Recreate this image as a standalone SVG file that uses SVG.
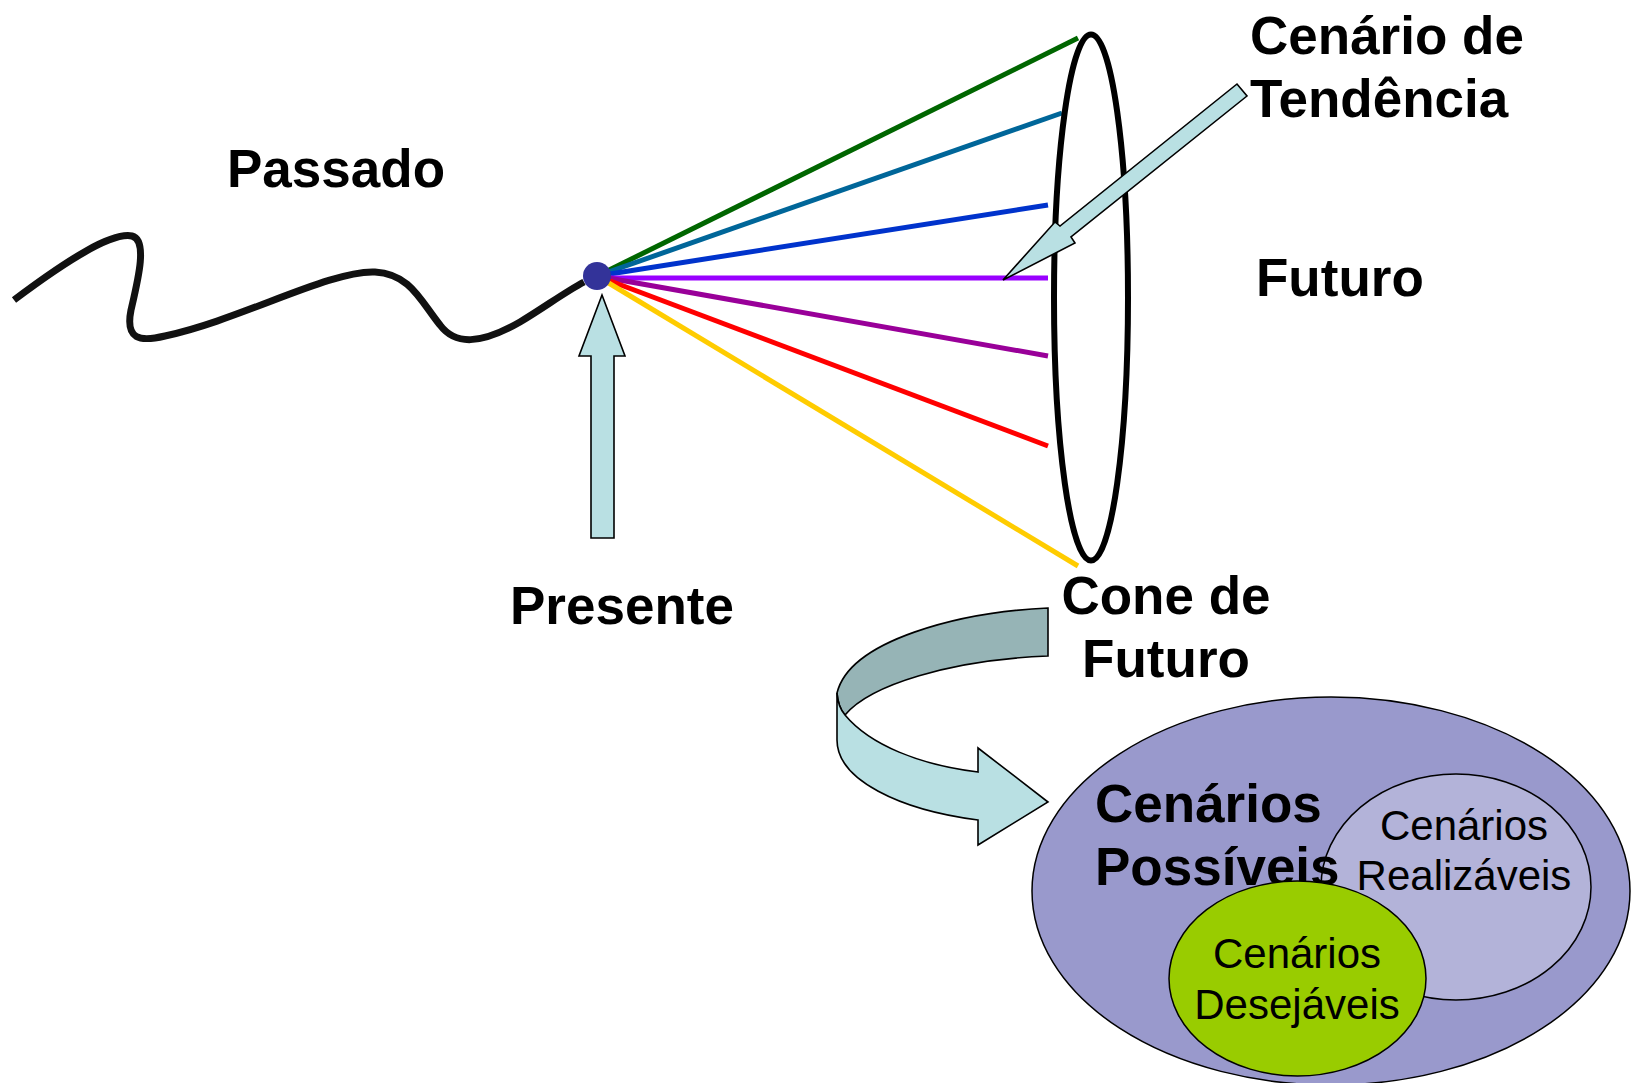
<svg xmlns="http://www.w3.org/2000/svg" width="1631" height="1083" viewBox="0 0 1631 1083">
<style>
.b{font-family:"Liberation Sans",Arial,sans-serif;font-weight:bold;font-size:53px;fill:#000}
.r{font-family:"Liberation Sans",Arial,sans-serif;font-size:42px;fill:#000}
.fan{stroke-width:5;fill:none}
.arr{fill:#B9E0E3;stroke:#000;stroke-width:1.6;stroke-linejoin:miter}
</style>
<rect width="1631" height="1083" fill="#fff"/>
<g id="passado-curve">
<path d="M14,300 C70,258 112,232 132,236 C148,240 138,280 131,310 C125,340 140,342 165,336 C240,320 330,270 375,272 C410,274 420,300 440,325 C455,345 480,345 520,322 C545,307 565,292 584,282" fill="none" stroke="#111" stroke-width="7"/>
</g>
<g id="connectors">
<line class="fan" x1="597" y1="276" x2="1078" y2="38" stroke="#006600"/>
<line class="fan" x1="597" y1="276" x2="1062" y2="113" stroke="#006699"/>
<line class="fan" x1="597" y1="276" x2="1048" y2="205" stroke="#0033CC"/>
<line class="fan" x1="597" y1="278" x2="1048" y2="278" stroke="#9900FF"/>
<line class="fan" x1="597" y1="276" x2="1048" y2="356" stroke="#990099"/>
<line class="fan" x1="597" y1="276" x2="1048" y2="446" stroke="#FF0000"/>
<line class="fan" x1="597" y1="276" x2="1078" y2="566" stroke="#FFCC00"/>
</g>
<g id="cone">
<ellipse cx="1091" cy="297.5" rx="37" ry="263" fill="none" stroke="#000" stroke-width="6"/>
</g>
<g id="presente-dot">
<circle cx="597" cy="276" r="14" fill="#333399"/>
</g>
<g id="presente-arrow">
<polygon class="arr" points="602,295 625,356 614,356 614,538 591,538 591,356 579,356"/>
</g>
<g id="tendencia-arrow">
<polygon class="arr" points="1003,280 1055,222 1060,226 1237,84 1247,96 1071,237 1075,243"/>
</g>
<g id="curved-arrow">
<path d="M1048,608 C960,612 850,640 837,693 Q838,707 845,715 C870,685 950,660 1048,656 Z" fill="#96B4B6" stroke="#000" stroke-width="1.6"/>
<path d="M837,693 L837,740 C837,780 900,810 978,820 L978,845 L1048,802 L978,748 L978,772 C920,765 870,745 845,715 Q838,707 837,693 Z" fill="#B9E0E3" stroke="#000" stroke-width="1.6"/>
</g>
<g id="labels">
<text class="b" x="227" y="187">Passado</text>
<text class="b" x="510" y="624">Presente</text>
<text class="b" x="1256" y="296">Futuro</text>
<text class="b" x="1250" y="54">Cenário de</text>
<text class="b" x="1250" y="117">Tendência</text>
<text class="b" x="1166" y="614" text-anchor="middle">Cone de</text>
<text class="b" x="1166" y="677" text-anchor="middle">Futuro</text>
</g>
<g id="possiveis">
<ellipse cx="1331" cy="891" rx="299" ry="194" fill="#9999CC" stroke="#000" stroke-width="1.5"/>
</g>
<g id="realizaveis">
<ellipse cx="1456" cy="887" rx="135" ry="113" fill="#B3B3D9" stroke="#000" stroke-width="1.5"/>
<text class="r" x="1464" y="840" text-anchor="middle">Cenários</text>
<text class="r" x="1464" y="890" text-anchor="middle">Realizáveis</text>
</g>
<g id="possiveis-label">
<text class="b" x="1095" y="822">Cenários</text>
<text class="b" x="1095" y="885">Possíveis</text>
</g>
<g id="desejaveis">
<ellipse cx="1297.5" cy="978.5" rx="128.5" ry="97.5" fill="#99CC00" stroke="#000" stroke-width="1.5"/>
<text class="r" x="1297" y="968" text-anchor="middle">Cenários</text>
<text class="r" x="1297" y="1019" text-anchor="middle">Desejáveis</text>
</g>
</svg>
